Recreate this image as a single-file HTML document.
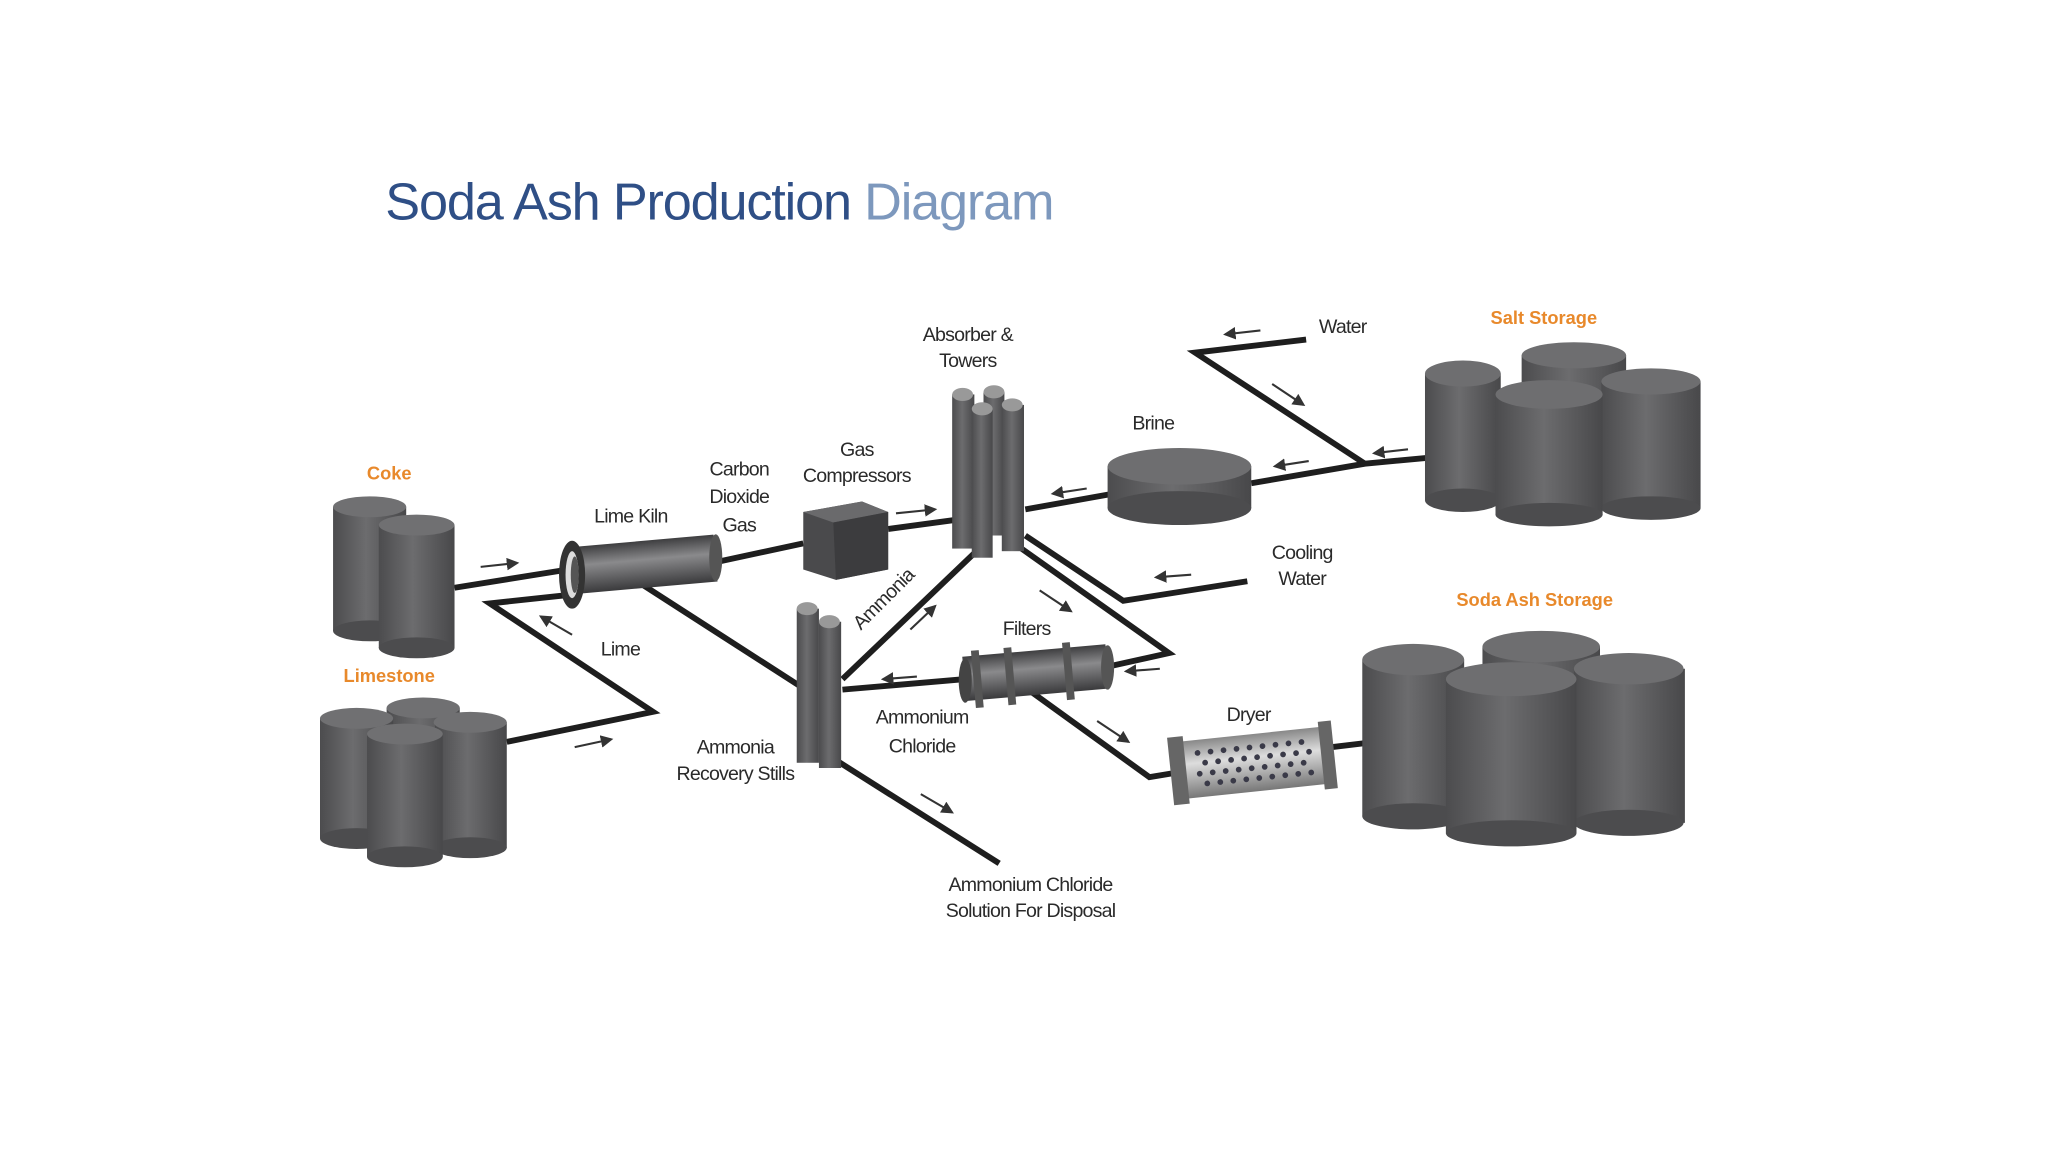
<!DOCTYPE html>
<html><head><meta charset="utf-8"><style>
html,body{margin:0;padding:0;background:#fff;}
svg{display:block}
text{font-family:"Liberation Sans",sans-serif;}
.l{font-size:15px;fill:#2a2a2a;letter-spacing:-0.6px;text-anchor:middle}
.o{font-size:14px;fill:#e8892b;font-weight:bold;text-anchor:middle}
.p{stroke:#1e1e1e;stroke-width:4.5;fill:none;stroke-linejoin:miter}
.a{stroke:#333;stroke-width:1.6;fill:none}
</style></head><body>
<svg width="2048" height="1152" viewBox="0 0 1568 882" xmlns="http://www.w3.org/2000/svg">
<defs>
<linearGradient id="g" x1="0" x2="1" y1="0" y2="0">
<stop offset="0" stop-color="#4c4c4e"/><stop offset="0.45" stop-color="#6c6c6e"/><stop offset="1" stop-color="#48484a"/></linearGradient>
<linearGradient id="gv" x1="0" x2="0" y1="0" y2="1">
<stop offset="0" stop-color="#3e3e40"/><stop offset="0.4" stop-color="#8a8a8c"/><stop offset="1" stop-color="#3a3a3c"/></linearGradient>
<linearGradient id="gl" x1="0" x2="0" y1="0" y2="1">
<stop offset="0" stop-color="#888"/><stop offset="0.4" stop-color="#ddd"/><stop offset="1" stop-color="#777"/></linearGradient>
<marker id="m" markerWidth="6" markerHeight="6" refX="5" refY="3" orient="auto"><path d="M0,0 L6,3 L0,6 z" fill="#333"/></marker>
</defs>
<rect width="1568" height="882" fill="#fff"/>
<text x="295" y="168" font-size="40" letter-spacing="-0.9" fill="#2f4f86">Soda Ash Production <tspan fill="#7d98bd">Diagram</tspan></text>

<g class="p">
<path d="M348,450 L435,436"/>
<path d="M388,568 L500,545 L375,462 L440,455"/>
<path d="M550,430 L615,416"/>
<path d="M680,405 L732,398"/>
<path d="M480,440 L612,525"/>
<path d="M758,412 L645,520"/>
<path d="M852,378 L785,390"/>
<path d="M958,370 L1045,355 L1120,348"/>
<path d="M1000,260 L915,270 L1045,355"/>
<path d="M785,410 L860,460 L955,445"/>
<path d="M775,415 L895,500 L850,510"/>
<path d="M738,520 L645,528"/>
<path d="M790,530 L880,595 L898,592"/>
<path d="M1020,572 L1070,566"/>
<path d="M640,582 L765,661"/>
</g>
<g class="a">
<path d="M368,434 L396,431" marker-end="url(#m)"/>
<path d="M438,486 L414,472" marker-end="url(#m)"/>
<path d="M440,572 L468,566" marker-end="url(#m)"/>
<path d="M686,393 L716,390" marker-end="url(#m)"/>
<path d="M832,374 L806,378" marker-end="url(#m)"/>
<path d="M1002,353 L976,357" marker-end="url(#m)"/>
<path d="M1078,344 L1052,347" marker-end="url(#m)"/>
<path d="M965,253 L938,256" marker-end="url(#m)"/>
<path d="M974,294 L998,310" marker-end="url(#m)"/>
<path d="M912,440 L885,442" marker-end="url(#m)"/>
<path d="M796,452 L820,468" marker-end="url(#m)"/>
<path d="M888,512 L862,514" marker-end="url(#m)"/>
<path d="M702,518 L676,520" marker-end="url(#m)"/>
<path d="M697,482 L716,464" marker-end="url(#m)"/>
<path d="M840,552 L864,568" marker-end="url(#m)"/>
<path d="M705,608 L729,622" marker-end="url(#m)"/>
</g>

<g>
<rect x="255" y="388" width="56" height="95" fill="url(#g)"/><ellipse cx="283" cy="483" rx="28" ry="8" fill="#4c4c4e"/><ellipse cx="283" cy="388" rx="28" ry="8" fill="#707072"/>
<rect x="290" y="402" width="58" height="94" fill="url(#g)"/><ellipse cx="319" cy="496" rx="29" ry="8" fill="#4c4c4e"/><ellipse cx="319" cy="402" rx="29" ry="8" fill="#707072"/>
</g>
<g>
<rect x="296" y="542" width="56" height="90" fill="url(#g)"/><ellipse cx="324" cy="542" rx="28" ry="8" fill="#707072"/>
<rect x="245" y="550" width="56" height="92" fill="url(#g)"/><ellipse cx="273" cy="642" rx="28" ry="8" fill="#4c4c4e"/><ellipse cx="273" cy="550" rx="28" ry="8" fill="#707072"/>
<rect x="333" y="553" width="55" height="96" fill="url(#g)"/><ellipse cx="360" cy="649" rx="28" ry="8" fill="#4c4c4e"/><ellipse cx="360" cy="553" rx="28" ry="8" fill="#707072"/>
<rect x="281" y="562" width="58" height="94" fill="url(#g)"/><ellipse cx="310" cy="656" rx="29" ry="8" fill="#4c4c4e"/><ellipse cx="310" cy="562" rx="29" ry="8" fill="#707072"/>
</g>
<g>
<rect x="1165" y="272" width="80" height="100" fill="url(#g)"/><ellipse cx="1205" cy="272" rx="40" ry="10" fill="#6e6e70"/>
<rect x="1091" y="286" width="58" height="97" fill="url(#g)"/><ellipse cx="1120" cy="383" rx="29" ry="9" fill="#4c4c4e"/><ellipse cx="1120" cy="286" rx="29" ry="10" fill="#6e6e70"/>
<rect x="1226" y="292" width="76" height="97" fill="url(#g)"/><ellipse cx="1264" cy="389" rx="38" ry="9" fill="#4c4c4e"/><ellipse cx="1264" cy="292" rx="38" ry="10" fill="#6e6e70"/>
<rect x="1145" y="302" width="82" height="92" fill="url(#g)"/><ellipse cx="1186" cy="394" rx="41" ry="9" fill="#4c4c4e"/><ellipse cx="1186" cy="302" rx="41" ry="11" fill="#6e6e70"/>
</g>
<g>
<rect x="1135" y="495" width="90" height="110" fill="url(#g)"/><ellipse cx="1180" cy="495" rx="45" ry="12" fill="#6e6e70"/>
<rect x="1043" y="505" width="78" height="120" fill="url(#g)"/><ellipse cx="1082" cy="625" rx="39" ry="10" fill="#4c4c4e"/><ellipse cx="1082" cy="505" rx="39" ry="12" fill="#6e6e70"/>
<rect x="1205" y="512" width="85" height="118" fill="url(#g)"/><ellipse cx="1247" cy="630" rx="42" ry="10" fill="#4c4c4e"/><ellipse cx="1247" cy="512" rx="42" ry="12" fill="#6e6e70"/>
<rect x="1107" y="520" width="100" height="118" fill="url(#g)"/><ellipse cx="1157" cy="638" rx="50" ry="10" fill="#4c4c4e"/><ellipse cx="1157" cy="520" rx="50" ry="13" fill="#6e6e70"/>
</g>
<g>
<rect x="440" y="414" width="108" height="36" fill="url(#gv)" transform="rotate(-5 494 432)"/>
<ellipse cx="548" cy="427" rx="5" ry="18" fill="#555"/>
<ellipse cx="438" cy="440" rx="10" ry="26" fill="#333"/>
<ellipse cx="438" cy="440" rx="5" ry="18" fill="#ddd"/>
<ellipse cx="440" cy="440" rx="3" ry="14" fill="#555"/>
</g>
<g>
<path d="M615,392 L660,384 L680,392 L680,436 L640,444 L615,436 z" fill="#4a4a4c"/>
<path d="M615,392 L660,384 L680,392 L638,400 z" fill="#6a6a6c"/>
<path d="M638,400 L680,392 L680,436 L640,444 z" fill="#3c3c3e"/>
</g>
<g>
<rect x="753" y="300" width="16" height="110" fill="url(#g)"/><ellipse cx="761" cy="300" rx="8" ry="5" fill="#999"/>
<rect x="729" y="302" width="17" height="118" fill="url(#g)"/><ellipse cx="737" cy="302" rx="8" ry="5" fill="#999"/>
<rect x="767" y="310" width="17" height="112" fill="url(#g)"/><ellipse cx="775" cy="310" rx="8" ry="5" fill="#999"/>
<rect x="744" y="313" width="16" height="114" fill="url(#g)"/><ellipse cx="752" cy="313" rx="8" ry="5" fill="#999"/>
</g>
<g>
<rect x="848" y="357" width="110" height="32" fill="url(#g)"/>
<ellipse cx="903" cy="389" rx="55" ry="13" fill="#4c4c4e"/>
<ellipse cx="903" cy="357" rx="55" ry="14" fill="#6e6e70"/>
</g>
<g>
<rect x="610" y="466" width="17" height="118" fill="url(#g)"/><ellipse cx="618" cy="466" rx="8" ry="5" fill="#999"/>
<rect x="627" y="476" width="17" height="112" fill="url(#g)"/><ellipse cx="635" cy="476" rx="8" ry="5" fill="#999"/>
</g>
<g>
<rect x="738" y="498" width="110" height="34" fill="url(#gv)" transform="rotate(-5 793 515)"/>
<rect x="745" y="494" width="6" height="44" fill="#555" transform="rotate(-5 793 515)"/>
<rect x="770" y="494" width="6" height="44" fill="#555" transform="rotate(-5 793 515)"/>
<rect x="815" y="494" width="6" height="44" fill="#555" transform="rotate(-5 793 515)"/>
<ellipse cx="848" cy="511" rx="5" ry="17" fill="#555"/>
<ellipse cx="739" cy="521" rx="5" ry="17" fill="#444"/>
</g>
<g transform="rotate(-6 960 585)">
<rect x="900" y="562" width="120" height="44" fill="url(#gl)"/>
<rect x="896" y="558" width="12" height="52" fill="#666"/>
<rect x="1012" y="558" width="10" height="52" fill="#666"/>
<g fill="#3a3a48">
<circle cx="918" cy="572" r="2.2"/><circle cx="928" cy="572" r="2.2"/><circle cx="938" cy="572" r="2.2"/><circle cx="948" cy="572" r="2.2"/><circle cx="958" cy="572" r="2.2"/><circle cx="968" cy="572" r="2.2"/><circle cx="978" cy="572" r="2.2"/><circle cx="988" cy="572" r="2.2"/><circle cx="998" cy="572" r="2.2"/>
<circle cx="923" cy="580" r="2.2"/><circle cx="933" cy="580" r="2.2"/><circle cx="943" cy="580" r="2.2"/><circle cx="953" cy="580" r="2.2"/><circle cx="963" cy="580" r="2.2"/><circle cx="973" cy="580" r="2.2"/><circle cx="983" cy="580" r="2.2"/><circle cx="993" cy="580" r="2.2"/><circle cx="1003" cy="580" r="2.2"/>
<circle cx="918" cy="588" r="2.2"/><circle cx="928" cy="588" r="2.2"/><circle cx="938" cy="588" r="2.2"/><circle cx="948" cy="588" r="2.2"/><circle cx="958" cy="588" r="2.2"/><circle cx="968" cy="588" r="2.2"/><circle cx="978" cy="588" r="2.2"/><circle cx="988" cy="588" r="2.2"/><circle cx="998" cy="588" r="2.2"/>
<circle cx="923" cy="596" r="2.2"/><circle cx="933" cy="596" r="2.2"/><circle cx="943" cy="596" r="2.2"/><circle cx="953" cy="596" r="2.2"/><circle cx="963" cy="596" r="2.2"/><circle cx="973" cy="596" r="2.2"/><circle cx="983" cy="596" r="2.2"/><circle cx="993" cy="596" r="2.2"/><circle cx="1003" cy="596" r="2.2"/>
</g>
</g>

<text class="o" x="298" y="367">Coke</text>
<text class="o" x="298" y="522">Limestone</text>
<text class="o" x="1182" y="248">Salt Storage</text>
<text class="o" x="1175" y="464">Soda Ash Storage</text>
<text class="l" x="741" y="261">Absorber &amp;</text>
<text class="l" x="741" y="281">Towers</text>
<text class="l" x="1028" y="255">Water</text>
<text class="l" x="883" y="329">Brine</text>
<text class="l" x="656" y="349">Gas</text>
<text class="l" x="656" y="369">Compressors</text>
<text class="l" x="566" y="364">Carbon</text>
<text class="l" x="566" y="385">Dioxide</text>
<text class="l" x="566" y="407">Gas</text>
<text class="l" x="483" y="400">Lime Kiln</text>
<text class="l" x="475" y="502">Lime</text>
<text class="l" x="997" y="428">Cooling</text>
<text class="l" x="997" y="448">Water</text>
<text class="l" x="786" y="486">Filters</text>
<text class="l" x="956" y="552">Dryer</text>
<text class="l" x="706" y="554">Ammonium</text>
<text class="l" x="706" y="576">Chloride</text>
<text class="l" x="563" y="577">Ammonia</text>
<text class="l" x="563" y="597">Recovery Stills</text>
<text class="l" x="789" y="682">Ammonium Chloride</text>
<text class="l" x="789" y="702">Solution For Disposal</text>
<text class="l" x="680" y="462" transform="rotate(-45 680 462)">Ammonia</text>
</svg>
</body></html>
